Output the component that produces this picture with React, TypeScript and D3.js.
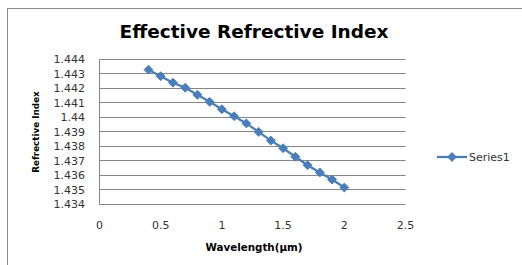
import { useEffect, useRef } from 'react'
import * as d3 from 'd3'

const wavelengths = [0.4, 0.5, 0.6, 0.7, 0.8, 0.9, 1.0, 1.1, 1.2, 1.3, 1.4, 1.5, 1.6, 1.7, 1.8, 1.9, 2.0]
const series1 = [
    1.4433, 1.44285, 1.4424, 1.44205, 1.44157, 1.44108, 1.44057, 1.44009, 1.43959,
    1.43901, 1.43841, 1.43788, 1.43729, 1.43671, 1.43621, 1.43572, 1.43517,
]
const xTicks = [0, 0.5, 1, 1.5, 2, 2.5]
const yTicks = [1.434, 1.435, 1.436, 1.437, 1.438, 1.439, 1.44, 1.441, 1.442, 1.443, 1.444]
const seriesName = 'Series1'

const App = () => {
    const ref = useRef<SVGSVGElement>(null)

    useEffect(() => {
        const svg = d3.select(ref.current)
        svg.selectAll('*').remove()

        const font = '"DejaVu Sans", sans-serif'
        const blue = '#4A7EBB'

        // Chart border (runs off the right and bottom edges)
        svg.append('rect')
            .attr('x', 7.5)
            .attr('y', 8.5)
            .attr('width', 600)
            .attr('height', 300)
            .attr('fill', 'white')
            .attr('stroke', '#8c8c8c')
            .attr('stroke-width', 1)

        const x = d3.scaleLinear().domain([0, 2.5]).range([99.5, 405.5])
        const y = d3.scaleLinear().domain([1.434, 1.444]).range([204.5, 59.5])

        // Gridlines
        svg.append('g')
            .selectAll('line')
            .data(yTicks.slice(1))
            .join('line')
            .attr('x1', x(0))
            .attr('x2', x(2.5))
            .attr('y1', (d) => Math.round(y(d) - 0.5) + 0.5)
            .attr('y2', (d) => Math.round(y(d) - 0.5) + 0.5)
            .attr('stroke', '#868686')
            .attr('stroke-width', 1)

        // Axis lines
        svg.append('line')
            .attr('x1', x(0)).attr('x2', x(0))
            .attr('y1', y(1.444)).attr('y2', y(1.434))
            .attr('stroke', '#868686')
        svg.append('line')
            .attr('x1', x(0)).attr('x2', x(2.5))
            .attr('y1', y(1.434)).attr('y2', y(1.434))
            .attr('stroke', '#868686')

        // Y tick labels
        svg.append('g')
            .selectAll('text')
            .data(yTicks)
            .join('text')
            .attr('x', 85)
            .attr('y', (d) => y(d))
            .attr('dy', '0.35em')
            .attr('text-anchor', 'end')
            .attr('font-family', font)
            .attr('font-size', 11)
            .attr('fill', '#333')
            .text((d) => String(+d.toFixed(3)))

        // X tick labels
        svg.append('g')
            .selectAll('text')
            .data(xTicks)
            .join('text')
            .attr('x', (d) => x(d))
            .attr('y', 225)
            .attr('dy', '0.35em')
            .attr('text-anchor', 'middle')
            .attr('font-family', font)
            .attr('font-size', 11)
            .attr('fill', '#333')
            .text((d) => String(d))

        // Series line
        const pts = wavelengths.map((w, i) => [w, series1[i]] as [number, number])
        svg.append('path')
            .datum(pts)
            .attr('fill', 'none')
            .attr('stroke', blue)
            .attr('stroke-width', 2.25)
            .attr('d', d3.line().x((d) => x(d[0])).y((d) => y(d[1])))

        const diamond = d3.symbol().type(d3.symbolDiamond2).size(50)
        svg.append('g')
            .selectAll('path')
            .data(pts)
            .join('path')
            .attr('transform', (d) => `translate(${x(d[0])},${y(d[1])})`)
            .attr('d', diamond())
            .attr('fill', blue)
            .attr('stroke', blue)
            .attr('stroke-width', 1)

        // Title
        svg.append('text')
            .attr('x', 254)
            .attr('y', 38)
            .attr('text-anchor', 'middle')
            .attr('font-family', font)
            .attr('font-weight', 'bold')
            .attr('font-size', 18.5)
            .attr('fill', '#000')
            .text('Effective Refrective Index')

        // Axis titles
        svg.append('text')
            .attr('transform', 'translate(36,132) rotate(-90)')
            .attr('dy', '0.35em')
            .attr('text-anchor', 'middle')
            .attr('font-family', font)
            .attr('font-weight', 'bold')
            .attr('font-size', 8.8)
            .attr('fill', '#000')
            .text('Refrective Index')

        svg.append('text')
            .attr('x', 254)
            .attr('y', 247)
            .attr('dy', '0.35em')
            .attr('text-anchor', 'middle')
            .attr('font-family', font)
            .attr('font-weight', 'bold')
            .attr('font-size', 10.3)
            .attr('fill', '#000')
            .text('Wavelength(µm)')

        // Legend
        const lg = svg.append('g').attr('transform', 'translate(437,157)')
        lg.append('line')
            .attr('x1', 0).attr('x2', 30)
            .attr('y1', 0).attr('y2', 0)
            .attr('stroke', blue)
            .attr('stroke-width', 2.25)
        lg.append('path')
            .attr('transform', 'translate(15,0)')
            .attr('d', diamond())
            .attr('fill', blue)
            .attr('stroke', blue)
        lg.append('text')
            .attr('x', 32)
            .attr('y', 0)
            .attr('dy', '0.35em')
            .attr('font-family', font)
            .attr('font-size', 11)
            .attr('fill', '#333')
            .text(seriesName)
    }, [])

    return (
        <svg
            ref={ref}
            width={522}
            height={265}
            style={{ position: 'absolute', left: 0, top: 0 }}
        />
    )
}

export default App
